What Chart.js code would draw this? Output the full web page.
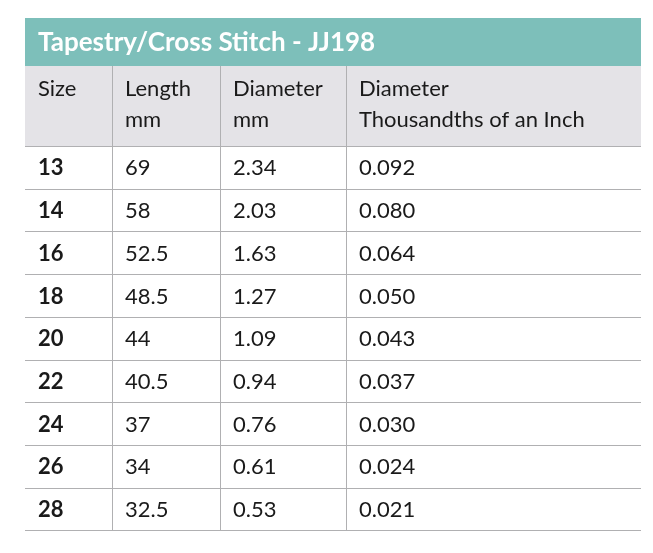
<!DOCTYPE html>
<html>
<head>
<meta charset="utf-8">
<script src="https://cdn.jsdelivr.net/npm/chart.js@4"></script>
<style>
  html, body { margin: 0; padding: 0; background: #fff; }
  #wrap { width: 653px; height: 553px; }
</style>
</head>
<body>
<div id="wrap"><canvas id="table"></canvas></div>
<script>
const title = "Tapestry/Cross Stitch - JJ198";
const headers = [["Size"], ["Length", "mm"], ["Diameter", "mm"], ["Diameter", "Thousandths of an Inch"]];
const sizes = ["13", "14", "16", "18", "20", "22", "24", "26", "28"];
const lengths = ["69", "58", "52.5", "48.5", "44", "40.5", "37", "34", "32.5"];
const diametersMm = ["2.34", "2.03", "1.63", "1.27", "1.09", "0.94", "0.76", "0.61", "0.53"];
const diametersIn = ["0.092", "0.080", "0.064", "0.050", "0.043", "0.037", "0.030", "0.024", "0.021"];

// layout (pixel space mapped onto the linear scales)
const colEdges = [25, 112, 220, 346, 641];
const titleTop = 18, headTop = 66, bodyTop = 146, rowH = 42.7;
const font = "Lato, 'Noto Sans', sans-serif";

const tablePlugin = {
  id: "table",
  afterDraw(chart) {
    const ctx = chart.ctx;
    const xs = chart.scales.x, ys = chart.scales.y;
    const X = v => xs.getPixelForValue(v), Y = v => ys.getPixelForValue(v);
    const left = X(colEdges[0]), right = X(colEdges[colEdges.length - 1]);
    const bottom = Y(bodyTop + rowH * sizes.length);
    ctx.save();
    // title band
    ctx.fillStyle = "#7dbfba";
    ctx.fillRect(left, Y(titleTop), right - left, Y(headTop) - Y(titleTop));
    ctx.fillStyle = "#fff";
    ctx.font = "bold 26px " + font;
    ctx.textBaseline = "middle";
    ctx.fillText(title, X(38), Y((titleTop + headTop) / 2 + 1));
    // header band
    ctx.fillStyle = "#e4e3e7";
    ctx.fillRect(left, Y(headTop), right - left, Y(bodyTop) - Y(headTop));
    // lines
    ctx.strokeStyle = "#b0b0b2";
    ctx.lineWidth = 1;
    ctx.beginPath();
    for (let i = 1; i < colEdges.length - 1; i++) {
      ctx.moveTo(X(colEdges[i]) + 0.5, Y(headTop));
      ctx.lineTo(X(colEdges[i]) + 0.5, bottom);
    }
    for (let r = 0; r <= sizes.length; r++) {
      const y = Math.round(Y(bodyTop + rowH * r)) + 0.5;
      ctx.moveTo(left, y); ctx.lineTo(right, y);
    }
    ctx.stroke();
    // header text
    ctx.fillStyle = "#1a1a1a";
    ctx.font = "22px " + font;
    ctx.textBaseline = "alphabetic";
    headers.forEach((h, c) => {
      h.forEach((line, k) => ctx.fillText(line, X(colEdges[c] + 13), Y(headTop + 30 + k * 31)));
    });
    // body
    const cols = [sizes, lengths, diametersMm, diametersIn];
    cols.forEach((col, c) => {
      ctx.font = (c === 0 ? "bold " : "") + "22px " + font;
      col.forEach((v, r) => {
        ctx.textBaseline = "middle";
        ctx.fillText(v, X(colEdges[c] + 13), Y(bodyTop + rowH * (r + 0.5) + 1));
      });
    });
    ctx.restore();
  }
};

new Chart("table", {
  type: "scatter",
  data: { datasets: [{ data: [] }] },
  options: {
    responsive: true,
    maintainAspectRatio: false,
    animation: false,
    layout: { padding: 0 },
    plugins: { legend: { display: false }, tooltip: { enabled: false } },
    scales: {
      x: { type: "linear", min: 0, max: 653, display: false },
      y: { type: "linear", min: 0, max: 553, reverse: true, display: false }
    }
  },
  plugins: [tablePlugin]
});
</script>
</body>
</html>
